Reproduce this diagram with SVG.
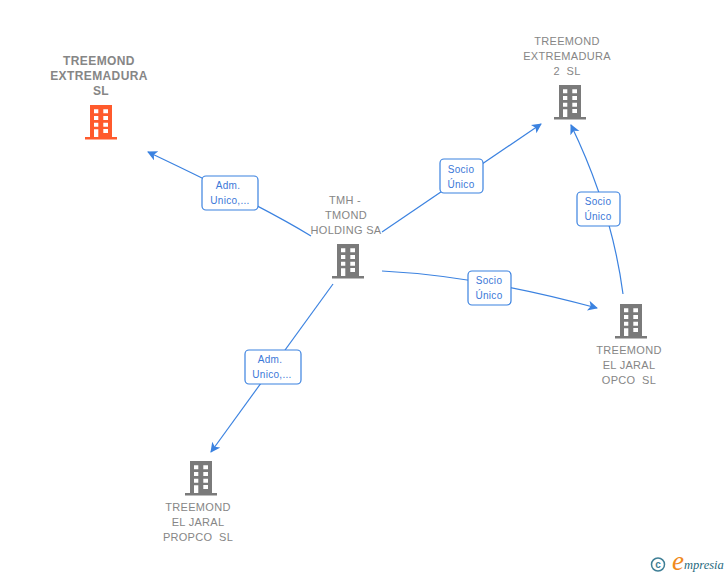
<svg xmlns="http://www.w3.org/2000/svg" width="728" height="575" viewBox="0 0 728 575">
<style>
text{font-family:"Liberation Sans",Arial,sans-serif}
.n{font-size:11px;fill:#868686;text-anchor:middle;letter-spacing:.3px}
.b{font-weight:bold;font-size:12px;letter-spacing:.4px}
.e{fill:none;stroke:#3b82e0;stroke-width:1.2}
.l rect{fill:#fff;stroke:#3b82e0;stroke-width:1.2}
.l text{font-size:10px;fill:#3b78d8;text-anchor:middle;letter-spacing:.3px}
</style>
<defs>
<path id="bld" fill-rule="evenodd" d="M5 0H27V32H32V34.500H0V32H5ZM9 4.300V8.300H13.300V4.300ZM18.300 4.300V8.300H23V4.300ZM9 11V15H13.300V11ZM18.300 11V15H23V11ZM9 17.700V21.700H13.300V17.700ZM18.300 17.700V21.700H23V17.700ZM9 24.300V32H13.300V24.300ZM18.300 24V28H23V24Z"/>
<marker id="a" markerWidth="12" markerHeight="12" refX="9" refY="5" orient="auto" markerUnits="userSpaceOnUse"><path d="M0 0L10 5L0 10L2.500 5Z" fill="#3b82e0"/></marker>
</defs>
<g id="connectors">
<path class="e" d="M311 236Q260 205 148 152" marker-end="url(#a)"/>
<path class="e" d="M382 232L541 124" marker-end="url(#a)"/>
<path class="e" d="M382 271Q480 276 597 308" marker-end="url(#a)"/>
<path class="e" d="M623 294Q612 210 571 125" marker-end="url(#a)"/>
<path class="e" d="M333 284L211 452" marker-end="url(#a)"/>
</g>
<g id="edge-label-1" class="l"><rect x="202" y="176" width="56" height="34" rx="4"/><text x="228" y="189">Adm.</text><text x="230" y="204">Unico,...</text></g>
<g id="edge-label-2" class="l"><rect x="440" y="159" width="43" height="34" rx="4"/><text x="461" y="173">Socio</text><text x="461" y="188">Único</text></g>
<g id="edge-label-3" class="l"><rect x="468" y="271" width="43" height="34" rx="4"/><text x="489" y="284">Socio</text><text x="489" y="299">Único</text></g>
<g id="edge-label-4" class="l"><rect x="577" y="192" width="43" height="34" rx="4"/><text x="598" y="205">Socio</text><text x="598" y="220">Único</text></g>
<g id="edge-label-5" class="l"><rect x="245" y="350" width="56" height="34" rx="4"/><text x="270" y="363">Adm.</text><text x="272" y="378">Unico,...</text></g>
<g id="node-treemond-extremadura-sl">
<text class="n b" x="99" y="65">TREEMOND</text><text class="n b" x="99" y="80">EXTREMADURA</text><text class="n b" x="101" y="95">SL</text>
<use href="#bld" x="85" y="105" fill="#ff5a2c"/>
</g>
<g id="node-treemond-extremadura-2-sl">
<text class="n" x="567" y="45">TREEMOND</text><text class="n" x="567" y="60">EXTREMADURA</text><text class="n" x="567" y="75" xml:space="preserve">2  SL</text>
<use href="#bld" x="554" y="85" fill="#7a7a7a"/>
</g>
<g id="node-tmh">
<text class="n" x="345" y="204">TMH -</text><text class="n" x="346" y="219">TMOND</text><text class="n" x="346" y="234">HOLDING SA</text>
<use href="#bld" x="332" y="244" fill="#7a7a7a"/>
</g>
<g id="node-treemond-el-jaral-opco-sl">
<use href="#bld" x="615" y="304" fill="#7a7a7a"/>
<text class="n" x="629" y="354">TREEMOND</text><text class="n" x="629" y="369">EL JARAL</text><text class="n" x="629" y="384" xml:space="preserve">OPCO  SL</text>
</g>
<g id="node-treemond-el-jaral-propco-sl">
<use href="#bld" x="185" y="461" fill="#7a7a7a"/>
<text class="n" x="198" y="511">TREEMOND</text><text class="n" x="198" y="526">EL JARAL</text><text class="n" x="198" y="541" xml:space="preserve">PROPCO  SL</text>
</g>
<g id="logo">
<circle cx="658" cy="564.500" r="6.500" fill="none" stroke="#3f7f96" stroke-width="1.500"/>
<text x="658" y="568" font-size="10" fill="#3f7f96" text-anchor="middle" font-weight="bold">c</text>
<text x="672" y="570" font-size="27" fill="#f08a1d" font-style="italic" style="font-family:'Liberation Serif',serif">e</text>
<text x="684" y="569" font-size="12.500" fill="#1f6a80" font-style="italic" style="font-family:'Liberation Serif',serif">mpresia</text>
</g>
</svg>
